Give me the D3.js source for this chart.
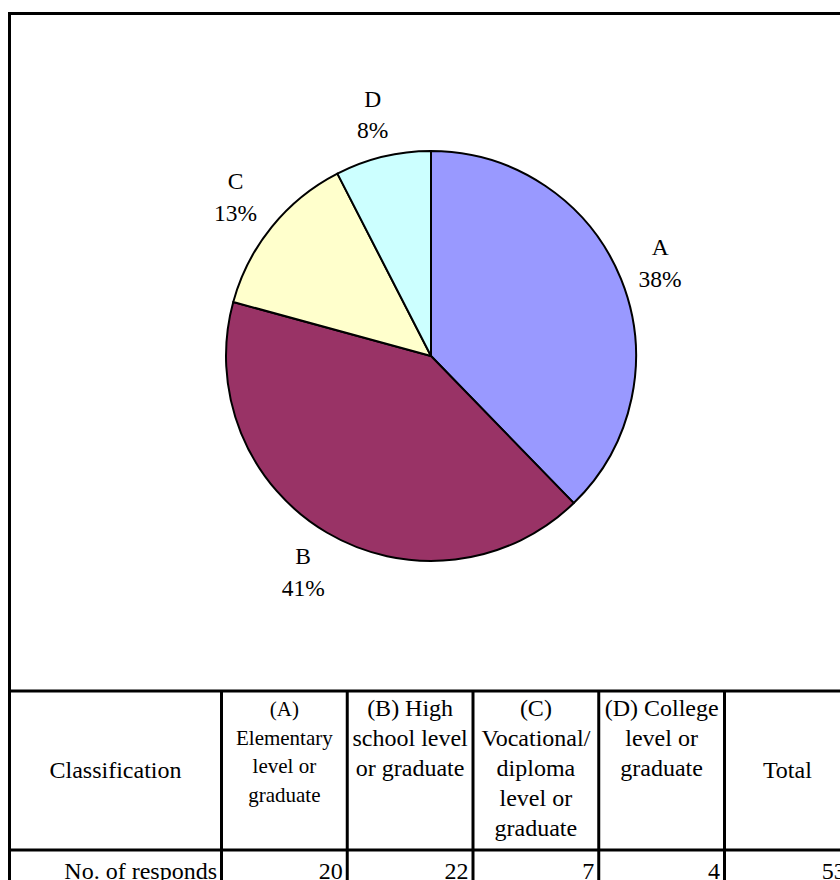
<!DOCTYPE html>
<html>
<head>
<meta charset="utf-8">
<script src="https://cdn.jsdelivr.net/npm/d3@7"></script>
<style>
  html, body { margin: 0; padding: 0; background: #fff; }
  svg { display: block; }
  svg text { font-family: "Liberation Serif", "Tinos", "Times New Roman", "DejaVu Serif", serif; fill: #000; }
</style>
</head>
<body>
<svg id="chart" width="840" height="880" font-family="Liberation Serif, DejaVu Serif, serif"></svg>
<script>
// ---- data ----
const categories = ["A", "B", "C", "D"];
const responds = [20, 22, 7, 4];
const sliceColors = ["#9999FF", "#993366", "#FFFFCC", "#CCFFFF"];
const rowHeader = "Classification";
const rowLabel = "No. of responds";
const totalLabel = "Total";
const columnHeaders = [
  ["(A)", "Elementary", "level or", "graduate"],
  ["(B) High", "school level", "or graduate"],
  ["(C)", "Vocational/", "diploma", "level or", "graduate"],
  ["(D) College", "level or", "graduate"]
];

const total = d3.sum(responds);

// whole-number percentages that still add up to 100 (largest remainder)
function roundedPercents(vals) {
  const sum = d3.sum(vals);
  const raw = vals.map(v => v / sum * 100);
  const out = raw.map(Math.floor);
  const left = 100 - d3.sum(out);
  const order = d3.range(vals.length).sort((a, b) => (raw[b] - out[b]) - (raw[a] - out[a]));
  for (let i = 0; i < left; i++) out[order[i]]++;
  return out;
}
const percents = roundedPercents(responds);

// ---- layout ----
const serif = "'Liberation Serif', 'DejaVu Serif', serif";
const svg = d3.select("#chart").style("font-family", serif);
const frameLeft = 9.5, frameTop = 13.5, frameRight = 850;
const tableTop = 691, rowSplit = 850, tableBottom = 884;
const firstColW = 212, colW = 125.75;
const colEdges = [frameLeft, frameLeft + firstColW];
for (let i = 0; i < columnHeaders.length + 1; i++) colEdges.push(colEdges[colEdges.length - 1] + colW);

const fontSize = 24;

// ---- pie ----
const cx = 431, cy = 356, R = 205;
const pieData = d3.pie().sort(null).value(d => d)(responds);
const arc = d3.arc().innerRadius(0).outerRadius(R);

const pieG = svg.append("g").attr("transform", `translate(${cx},${cy})`);
pieG.selectAll("path.slice")
  .data(pieData)
  .join("path")
  .attr("class", "slice")
  .attr("d", arc)
  .attr("fill", (d, i) => sliceColors[i])
  .attr("stroke", "#000")
  .attr("stroke-width", 2)
  .attr("stroke-linejoin", "round");

// outside labels: category on the first line, percent on the second
const labelFs = 23.5, labelGap = 31.5, capH = 0.662 * labelFs, edgeDist = 224;
pieData.forEach((d, i) => {
  const mid = (d.startAngle + d.endAngle) / 2;
  const s = Math.sin(mid), c = Math.cos(mid);
  const t = pieG.append("text")
    .attr("text-anchor", "middle")
    .style("font-family", serif)
    .attr("font-size", labelFs);
  const l1 = t.append("tspan").text(categories[i]);
  const l2 = t.append("tspan").text(percents[i] + "%");
  const w = Math.max(l1.node().getComputedTextLength(), l2.node().getComputedTextLength());
  const h = capH + labelGap;
  const reach = Math.min(
    Math.abs(s) > 1e-6 ? (w / 2) / Math.abs(s) : Infinity,
    Math.abs(c) > 1e-6 ? (h / 2) / Math.abs(c) : Infinity
  );
  const dist = edgeDist + reach;
  const lx = dist * s, ly = -dist * c;
  const b1 = ly - h / 2 + capH;
  l1.attr("x", lx).attr("y", b1);
  l2.attr("x", lx).attr("y", b1 + labelGap);
});

// ---- frame and table grid ----
const lineG = svg.append("g")
  .attr("stroke", "#000")
  .attr("stroke-width", 3)
  .attr("fill", "none");

// chart frame
lineG.append("path")
  .attr("d", `M${frameLeft},${tableBottom} V${frameTop} H${frameRight + 5}`);

// horizontal rules of the table
[tableTop, rowSplit].forEach(y => {
  lineG.append("line")
    .attr("x1", frameLeft - 1.5).attr("x2", frameRight + 5)
    .attr("y1", y).attr("y2", y);
});
// vertical rules
colEdges.slice(1).forEach(x => {
  lineG.append("line")
    .attr("x1", x).attr("x2", x)
    .attr("y1", tableTop).attr("y2", tableBottom);
});

// ---- table text ----
const textG = svg.append("g").style("font-family", serif);
const headerMid = (tableTop + rowSplit) / 2 + 0.33 * fontSize;

textG.append("text")
  .attr("x", (colEdges[0] + colEdges[1]) / 2)
  .attr("y", headerMid)
  .attr("text-anchor", "middle")
  .attr("font-size", fontSize)
  .text(rowHeader);

columnHeaders.forEach((lines, i) => {
  const x = (colEdges[i + 1] + colEdges[i + 2]) / 2;
  const small = i === 0;
  const fs = small ? 21 : fontSize;
  const gap = small ? 28.5 : 30;
  const t = textG.append("text")
    .attr("text-anchor", "middle")
    .attr("font-size", fs);
  lines.forEach((ln, k) => {
    t.append("tspan").attr("x", x).attr("y", 716 + k * gap).text(ln);
  });
});

textG.append("text")
  .attr("x", (colEdges[5] + colEdges[6]) / 2)
  .attr("y", headerMid)
  .attr("text-anchor", "middle")
  .attr("font-size", fontSize)
  .text(totalLabel);

// data row (right aligned)
const rowBase = 878.5, pad = 4.5;
textG.append("text")
  .attr("x", colEdges[1] - pad)
  .attr("y", rowBase)
  .attr("text-anchor", "end")
  .attr("font-size", fontSize)
  .text(rowLabel);

responds.concat([total]).forEach((v, i) => {
  textG.append("text")
    .attr("x", colEdges[i + 2] - pad)
    .attr("y", rowBase)
    .attr("text-anchor", "end")
    .attr("font-size", fontSize)
    .text(v);
});
</script>
</body>
</html>
